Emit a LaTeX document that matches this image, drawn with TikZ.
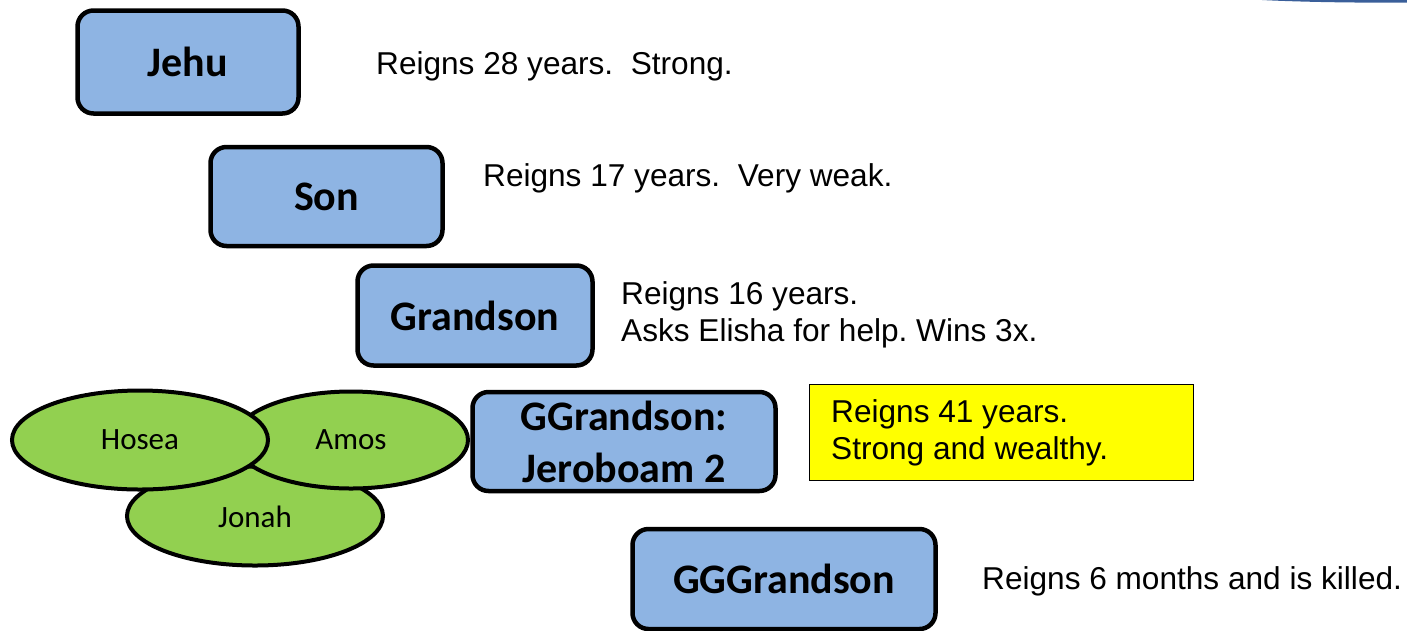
\documentclass[tikz,border=0pt]{standalone}
\usepackage{fontspec}
\setmainfont{Liberation Sans}
\newfontfamily\calibri{Carlito}
\usepackage{xcolor}
\definecolor{kingblue}{HTML}{8EB4E3}
\definecolor{prophetgreen}{HTML}{92D050}
\definecolor{slideblue}{HTML}{3A5F9A}
\definecolor{notelight}{HTML}{FFFF00}
\usetikzlibrary{shapes.geometric}
\tikzset{
  king/.style={draw, line width=4.5pt, fill=kingblue, rounded corners=16pt,
    font=\calibri\fontsize{42}{50}\selectfont\bfseries, align=center, inner sep=0pt},
  prophet/.style={ellipse, draw, line width=4pt, fill=prophetgreen, inner sep=0pt,
    font=\calibri\fontsize{31}{36}\selectfont},
  note/.style={anchor=west, align=left, inner sep=0pt,
    font=\fontsize{31.6}{37}\selectfont}
}

\begin{document}
\frenchspacing
\begin{tikzpicture}[x=1pt, y=-1pt]
\useasboundingbox (0,0) rectangle (1407,630);
\fill[slideblue] (1262,0) -- (1407,0) -- (1407,2.5) .. controls (1360,3) and (1300,2) .. (1262,0) -- cycle;
% the kings
\node[king, minimum width=221pt, minimum height=103pt] (jehu) at (188,62) {Jehu};
\node[king, minimum width=232pt, minimum height=99pt] (son) at (326.5,196.5) {Son};
\node[king, minimum width=235pt, minimum height=100pt] (grandson) at (475,315.5) {Grandson};
\node[king, minimum width=303pt, minimum height=99pt] (jeroboam) at (624,441.5) {GGrandson:\\[2pt]Jeroboam 2};
\node[king, minimum width=303pt, minimum height=100pt] (ggg) at (784,579) {GGGrandson};
% the prophets
\node[prophet, minimum width=256pt, minimum height=99pt] (jonah) at (255,516) {};
\node[prophet, minimum width=234pt, minimum height=97pt] (amos) at (351,440) {Amos};
\node[prophet, minimum width=256pt, minimum height=99pt] (hosea) at (140,440) {Hosea};
\node at ([yshift=-1pt]jonah.center) {\calibri\fontsize{31}{36}\selectfont Jonah};
% the notes
\node[note] (n1) at (376,66) {Reigns 28 years.\ \ Strong.};
\node[note] (n2) at (483,178) {Reigns 17 years.\ \ Very weak.};
\node[note] (n3) at (621,315) {Reigns 16 years.\\Asks Elisha for help. Wins 3x.};
\node[draw, line width=1.2pt, fill=notelight, minimum width=384pt, minimum height=96pt] (box41) at (1001.5,432.5) {};
\node[note] (n4) at (831,433) {Reigns 41 years.\\Strong and wealthy.};
\node[note] (n5) at (982,581) {Reigns 6 months and is killed.};
\end{tikzpicture}
\end{document}
